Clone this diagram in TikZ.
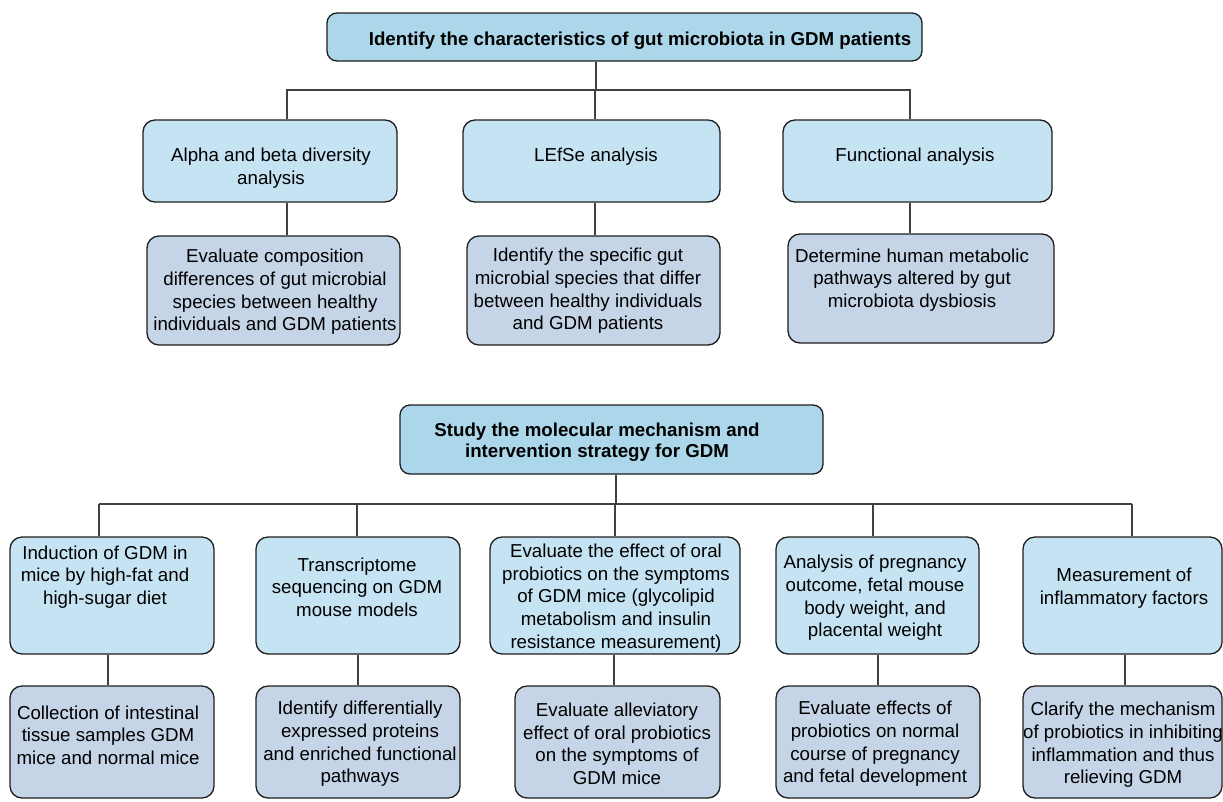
\documentclass[tikz,border=0pt]{standalone}
\usepackage{fontspec}
\setmainfont{Liberation Sans}
\usetikzlibrary{positioning}
\definecolor{topfill}{RGB}{172,215,234}
\definecolor{midfill}{RGB}{197,227,242}
\definecolor{lowfill}{RGB}{197,212,230}
\definecolor{edge}{RGB}{30,30,30}
\newcommand{\gbox}[6]{\node[#1,minimum width={#5-#3},minimum height={#6-#4}] (#2) at ({(#3+#5)/2},{(#4+#6)/2}) {};}

\begin{document}
\begin{tikzpicture}[x=1pt,y=-1pt,
  box/.style={draw=edge,line width=1.3pt,rounded corners=12pt,inner sep=0pt},
  topbox/.style={box,fill=topfill,rounded corners=10pt},
  midbox/.style={box,fill=midfill},
  lowbox/.style={box,fill=lowfill},
  txt/.style={align=center,inner sep=0pt,yshift=-2pt,font=\fontsize{18.7}{22.6}\selectfont},
  toptxt/.style={txt,font=\fontsize{18.7}{21.5}\selectfont\bfseries},
  link/.style={draw=edge!85,line width=1.1pt}]
\useasboundingbox (0,0) rectangle (1223,801);
% gut microbiota part
\gbox{topbox}{rootA}{327}{13}{922}{61}
\gbox{midbox}{a1}{143}{120}{397}{202}
\gbox{midbox}{a2}{463}{120}{720}{202}
\gbox{midbox}{a3}{783}{120}{1052}{202}
\gbox{lowbox}{b1}{147}{236}{400}{345}
\gbox{lowbox}{b2}{467}{236}{720}{345}
\gbox{lowbox}{b3}{788}{234}{1054}{343}
\node[toptxt] (rootAt) at (640,39) {Identify the characteristics of gut microbiota in GDM patients};
\node[txt] (a1t) at (271,166) {Alpha and beta diversity\\analysis};
\node[txt] (a2t) at (596,155) {LEfSe analysis};
\node[txt] (a3t) at (915,155) {Functional analysis};
\node[txt] (b1t) at (275,290) {Evaluate composition\\differences of gut microbial\\species between healthy\\individuals and GDM patients};
\node[txt] (b2t) at (588,289) {Identify the specific gut\\microbial species that differ\\between healthy individuals\\and GDM patients};
\node[txt] (b3t) at (912,278) {Determine human metabolic\\pathways altered by gut\\microbiota dysbiosis};
\coordinate (busA) at (596,90);
\coordinate (ka) at (287,0);
\coordinate (kb) at (595,0);
\coordinate (kc) at (910,0);
\draw[link] (rootA.south -| busA) -- (busA);
\draw[link] (a1.north -| ka) |- (busA) -| (a3.north -| kc);
\draw[link] (busA -| kb) -- (a2.north -| kb);
\draw[link] (a1.south -| ka) -- (b1.north -| ka);
\draw[link] (a2.south -| kb) -- (b2.north -| kb);
\draw[link] (a3.south -| kc) -- (b3.north -| kc);
% mechanism part
\gbox{topbox}{rootB}{400}{405}{823}{474}
\gbox{midbox}{c1}{10}{537}{214}{654}
\gbox{midbox}{c2}{256}{537}{460}{654}
\gbox{midbox}{c3}{490}{537}{740}{654}
\gbox{midbox}{c4}{776}{537}{979}{654}
\gbox{midbox}{c5}{1023}{537}{1222}{654}
\gbox{lowbox}{d1}{10}{686}{214}{798}
\gbox{lowbox}{d2}{256}{686}{460}{798}
\gbox{lowbox}{d3}{515}{686}{720}{798}
\gbox{lowbox}{d4}{776}{686}{980}{798}
\gbox{lowbox}{d5}{1023}{686}{1222}{798}
\node[toptxt] (rootBt) at (597,440) {Study the molecular mechanism and\\intervention strategy for GDM};
\node[txt] (c1t) at (105,575) {Induction of GDM in\\mice by high-fat and\\high-sugar diet};
\node[txt] (c2t) at (357,585) {Transcriptome\\sequencing on GDM\\mouse models};
\node[txt] (c3t) at (616,596) {Evaluate the effect of oral\\probiotics on the symptoms\\of GDM mice (glycolipid\\metabolism and insulin\\resistance measurement)};
\node[txt] (c4t) at (875,596) {Analysis of pregnancy\\outcome, fetal mouse\\body weight, and\\placental weight};
\node[txt] (c5t) at (1124,586) {Measurement of\\inflammatory factors};
\node[txt] (d1t) at (108,733) {Collection of intestinal\\tissue samples GDM\\mice and normal mice};
\node[txt] (d2t) at (360,742) {Identify differentially\\expressed proteins\\and enriched functional\\pathways};
\node[txt] (d3t) at (617,742) {Evaluate alleviatory\\effect of oral probiotics\\on the symptoms of\\GDM mice};
\node[txt] (d4t) at (875,742) {Evaluate effects of\\probiotics on normal\\course of pregnancy\\and fetal development};
\node[txt] (d5t) at (1123,743) {Clarify the mechanism\\of probiotics in inhibiting\\inflammation and thus\\relieving GDM};
\coordinate (busB) at (616,504);
\draw[link] (rootB.south -| busB) -- (busB);
\foreach \n/\xt/\xb in {1/99/108,2/357/358,3/615/614,4/873/878,5/1132/1125}{
  \coordinate (t\n) at (\xt,504);
  \coordinate (u\n) at (\xb,0);
  \draw[link] (t\n) -- (c\n.north -| t\n);
  \draw[link] (c\n.south -| u\n) -- (d\n.north -| u\n);
}
\draw[link] (t1) -- (t5);
\end{tikzpicture}
\end{document}
